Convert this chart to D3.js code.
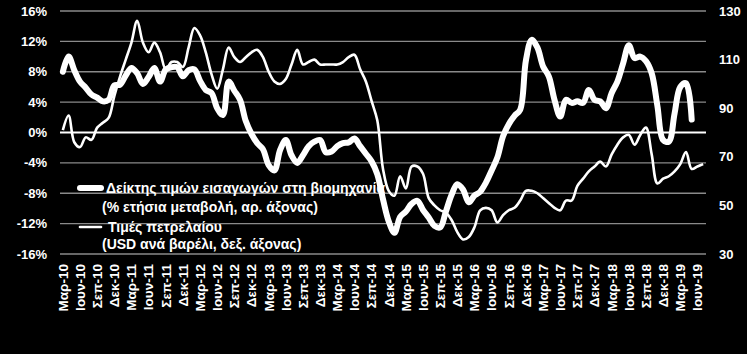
<!DOCTYPE html>
<html>
<head>
<meta charset="utf-8">
<script src="https://cdn.jsdelivr.net/npm/d3@7"></script>
<style>
  html, body { margin: 0; padding: 0; background: #000; }
  svg { display: block; }
  text { font-family: "Liberation Sans", Arial, sans-serif; fill: #fff; font-weight: bold; }
</style>
</head>
<body>
<svg id="chart"></svg>
<script>
const monthNames = ['Ιαν', 'Φεβ', 'Μαρ', 'Απρ', 'Μαϊ', 'Ιουν', 'Ιουλ', 'Αυγ', 'Σεπ', 'Οκτ', 'Νοε', 'Δεκ'];
const startYear = 2010, startMonth = 2, monthCount = 113;

// import price index in industry, % yoy (left axis)
const importPrices = [
  8.0, 10.0, 8.2, 6.7, 5.9, 5.0, 4.6, 4.1, 4.3, 6.2, 6.3, 7.5,
  8.5, 7.8, 6.4, 7.3, 8.5, 6.7, 8.3, 8.6, 8.6, 7.4, 8.2, 8.3,
  6.8, 5.6, 5.2, 3.2, 2.3, 6.7, 5.5, 4.3, 1.5, -0.2, -1.4, -2.2,
  -4.3, -5.0, -2.3, -1.0, -3.0, -4.0, -3.0, -1.8, -1.2, -1.0, -2.6, -2.5,
  -1.8, -1.4, -1.3, -0.8, -1.8, -2.8, -3.8, -5.5, -8.8, -11.7, -13.2, -11.1,
  -10.4, -9.4, -9.0, -10.2, -11.2, -12.3, -12.5, -10.4, -8.2, -6.8, -7.5, -9.2,
  -8.3, -7.8, -6.6, -5.0, -3.3, -0.5, 1.1, 2.2, 3.0, 9.5, 12.2, 11.2,
  8.7, 7.4, 4.3, 2.1, 4.3, 3.9, 4.1, 3.9, 5.6, 4.3, 4.1, 3.2,
  5.2, 6.7, 9.1, 11.5, 9.8, 10.0, 9.4, 7.8, 3.5, -1.0, -1.2, 2.5,
  6.0, 6.5, 1.7
];

// oil prices, USD per barrel (right axis)
const oilPrices = [
  81, 87, 76, 74, 78, 77, 82, 84, 86, 95, 103, 110,
  117, 126, 117, 113, 117, 113, 106, 109, 109, 107, 115, 123,
  120, 113, 104, 98, 106, 115, 111, 109, 111, 113, 114, 111,
  105, 101, 100, 102, 108, 114, 108, 109, 110, 108, 108, 108,
  108, 109, 111, 112, 106, 101, 93, 85, 65, 56, 54, 62,
  57, 66, 66, 63, 53, 50, 48, 47, 44, 39, 36, 37,
  41, 48, 49, 48, 43, 46, 48, 49, 52, 56, 56, 55,
  53, 51, 49, 48, 52, 52, 58, 61, 64, 66, 68, 66,
  71, 75, 78, 79, 75, 79, 82, 71, 59, 61, 62, 64,
  67, 72, 65, 66, 67
];

const leftTicks = [16, 12, 8, 4, 0, -4, -8, -12, -16];
const rightTicks = [130, 110, 90, 70, 50, 30];

const legendLines = [
  { label: ['Δείκτης τιμών εισαγωγών στη βιομηχανία', '(% ετήσια μεταβολή, αρ. άξονας)'], width: 6 },
  { label: ['Τιμές πετρελαίου', '(USD ανά βαρέλι, δεξ. άξονας)'], width: 2.6 }
];

const months = d3.range(monthCount).map(i => {
  const m = (startMonth + i) % 12;
  const y = startYear + Math.floor((startMonth + i) / 12);
  return `${monthNames[m]}-${String(y).slice(2)}`;
});

const W = 747, H = 354;
const plot = { left: 60, right: 706, top: 11, bottom: 254 };

const svg = d3.select('#chart').attr('width', W).attr('height', H);
svg.append('rect').attr('width', W).attr('height', H).attr('fill', '#000');

const x = d3.scaleBand().domain(months).range([plot.left, plot.right]).padding(0);
const yL = d3.scaleLinear().domain([-16, 16]).range([plot.bottom, plot.top]);
const yR = d3.scaleLinear().domain([30, 130]).range([plot.bottom, plot.top]);
const cx = i => x(months[i]) + x.bandwidth() / 2;

// gridlines
svg.append('g').selectAll('line')
  .data(leftTicks.filter(t => t !== 0))
  .enter().append('line')
  .attr('x1', plot.left).attr('x2', plot.right)
  .attr('y1', d => yL(d)).attr('y2', d => yL(d))
  .attr('stroke', '#8a8a8a').attr('stroke-width', 1.3);

// left axis labels
svg.append('g').selectAll('text')
  .data(leftTicks)
  .enter().append('text')
  .attr('x', 47).attr('y', d => yL(d)).attr('dy', '0.35em')
  .attr('text-anchor', 'end').style('font-size', '13px')
  .text(d => d + '%');

// right axis labels
svg.append('g').selectAll('text')
  .data(rightTicks)
  .enter().append('text')
  .attr('x', 719).attr('y', d => yR(d)).attr('dy', '0.35em')
  .attr('text-anchor', 'start').style('font-size', '13px')
  .text(d => d);

// x labels every quarter
svg.append('g').selectAll('text')
  .data(months.filter((m, i) => i % 3 === 0))
  .enter().append('text')
  .attr('transform', d => `translate(${x(d) + x.bandwidth() / 2},264) rotate(-90)`)
  .attr('dy', '0.36em')
  .attr('text-anchor', 'end').style('font-size', '13.5px')
  .text(d => d);

// legend
const legend = svg.append('g');
legendLines.forEach((item, k) => {
  const ly = k === 0 ? 188 : 227;
  legend.append('line')
    .attr('x1', 80).attr('x2', 101).attr('y1', ly).attr('y2', ly)
    .attr('stroke', '#fff').attr('stroke-width', item.width).attr('stroke-linecap', 'round');
  legend.append('text')
    .attr('x', k === 0 ? 106 : 108).attr('y', ly).attr('dy', '0.35em')
    .style('font-size', '14px').text(item.label[0]);
  legend.append('text')
    .attr('x', 102).attr('y', ly + (k === 0 ? 19 : 17)).attr('dy', '0.35em')
    .style('font-size', '14px').text(item.label[1]);
});

// zero axis line
svg.append('line')
  .attr('x1', plot.left).attr('x2', plot.right)
  .attr('y1', yL(0)).attr('y2', yL(0))
  .attr('stroke', '#fff').attr('stroke-width', 1.8);

const lineOil = d3.line().x((d, i) => cx(i)).y(d => yR(d)).curve(d3.curveCatmullRom.alpha(0.5));
const lineImp = d3.line().x((d, i) => cx(i)).y(d => yL(d)).curve(d3.curveCatmullRom.alpha(0.5));

svg.append('path').datum(oilPrices)
  .attr('d', lineOil).attr('fill', 'none')
  .attr('stroke', '#fff').attr('stroke-width', 2.6).attr('stroke-linejoin', 'round');

svg.append('path').datum(importPrices)
  .attr('d', lineImp).attr('fill', 'none')
  .attr('stroke', '#fff').attr('stroke-width', 6)
  .attr('stroke-linejoin', 'round').attr('stroke-linecap', 'round');
</script>
</body>
</html>
